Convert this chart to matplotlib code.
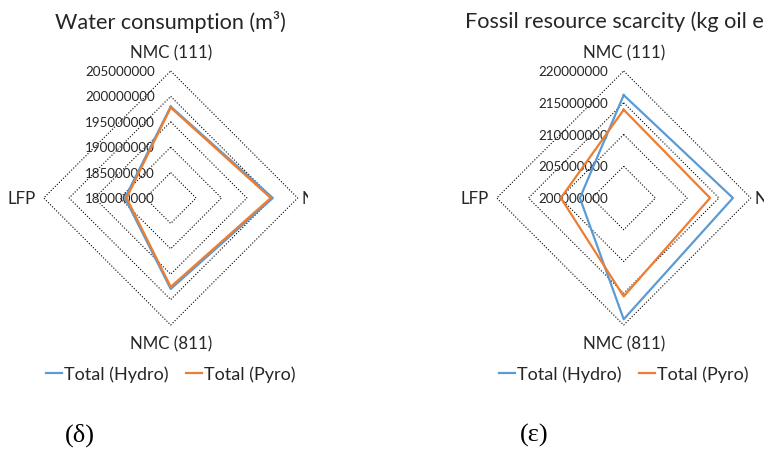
import numpy as np
import matplotlib
matplotlib.use('Agg')
import matplotlib.pyplot as plt

plt.rcParams['font.family'] = ['Lato', 'DejaVu Sans']

categories = ['NMC (111)', 'NMC (622)', 'NMC (811)', 'LFP']
series_names = ['Total (Hydro)', 'Total (Pyro)']
colors = ['#5B9BD5', '#ED7D31']

water_hydro = [198.0e6, 200.1e6, 197.9e6, 189.0e6]
water_pyro = [197.8e6, 199.7e6, 197.5e6, 188.7e6]
water_ticks = [180e6, 185e6, 190e6, 195e6, 200e6, 205e6]

fossil_hydro = [216.2e6, 217.2e6, 219.1e6, 206.9e6]
fossil_pyro = [213.9e6, 213.6e6, 215.5e6, 209.9e6]
fossil_ticks = [200e6, 205e6, 210e6, 215e6, 220e6]

W, H = 764, 452
R = 127.0  # radius in px
angles = np.deg2rad([90, 0, -90, 180])
txt = '#262626'


def radar(ax, title, values, ticks, panel_label):
    vmin, vmax = ticks[0], ticks[-1]
    # dotted diamond grid
    for t in ticks[1:]:
        r = (t - vmin) / (vmax - vmin)
        xs = np.append(r * np.cos(angles), r * np.cos(angles[0]))
        ys = np.append(r * np.sin(angles), r * np.sin(angles[0]))
        ax.plot(xs, ys, color='black', lw=0.8, ls=(0, (1, 1.6)), zorder=1)
    for s, (vals, c) in enumerate(zip(values, colors)):
        r = (np.array(vals) - vmin) / (vmax - vmin)
        xs = np.append(r * np.cos(angles), r[0] * np.cos(angles[0]))
        ys = np.append(r * np.sin(angles), r[0] * np.sin(angles[0]))
        ax.plot(xs, ys, color=c, lw=1.6, label=series_names[s], zorder=3 + s)
    for t in ticks:
        r = (t - vmin) / (vmax - vmin)
        ax.text(-0.125, r, '%d' % t, ha='right', va='center', fontsize=9.6,
                color=txt, zorder=2)
    ax.text(0, 1.15, categories[0], ha='center', va='center', fontsize=12.2, color=txt)
    ax.text(1.034, 0, categories[1], ha='left', va='center', fontsize=12.2,
            color=txt, clip_on=True)
    ax.text(0, -1.142, categories[2], ha='center', va='center', fontsize=12.2, color=txt)
    ax.text(-1.06, 0, categories[3], ha='right', va='center', fontsize=12.2, color=txt)
    ax.text(0, 1.394, title, ha='center', va='center', fontsize=15.6, color=txt,
            clip_on=True)
    ax.legend(loc='center', bbox_to_anchor=(0, -1.386), bbox_transform=ax.transData,
              ncol=2, frameon=False, fontsize=13, handlelength=0.9, handletextpad=0.08,
              columnspacing=1.0, labelcolor=txt, borderpad=0, borderaxespad=0)
    ax.text(panel_label[1], -1.858, panel_label[0], ha='center', va='center',
            fontsize=19, family='Liberation Serif')
    ax.axis('off')


fig = plt.figure(figsize=(W / 100, H / 100), dpi=100)

# panel (δ): axes from x=0 to 308 px, centre at (170.7, 199)
cx, cy, x0, x1 = 170.7, 199.0, 0.0, 308.0
ax1 = fig.add_axes([x0 / W, 0, (x1 - x0) / W, 1])
ax1.set_xlim(-(cx - x0) / R, (x1 - cx) / R)
ax1.set_ylim(-(H - cy) / R, cy / R)
radar(ax1, 'Water consumption (m³)', [water_hydro, water_pyro], water_ticks,
      ('(δ)', (80 - cx) / R))

# panel (ε)
cx, cy, x0, x1 = 623.7, 199.0, 308.0, 764.0
ax2 = fig.add_axes([x0 / W, 0, (x1 - x0) / W, 1])
ax2.set_xlim(-(cx - x0) / R, (x1 - cx) / R)
ax2.set_ylim(-(H - cy) / R, cy / R)
radar(ax2, 'Fossil resource scarcity (kg oil eq)', [fossil_hydro, fossil_pyro],
      fossil_ticks, ('(ε)', (534 - cx) / R))

fig.savefig('out.png', dpi=100)
